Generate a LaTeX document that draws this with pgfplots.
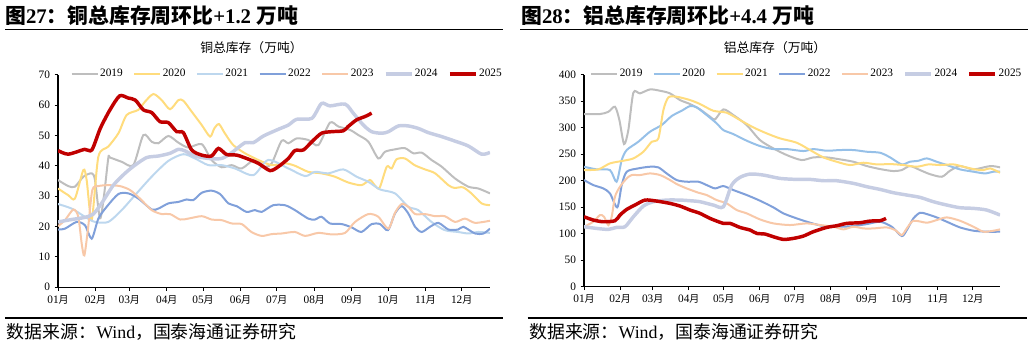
\documentclass[border=0pt]{standalone}
\usepackage{fontspec}
\setmainfont{Liberation Serif}
\newfontfamily\cjk{Noto Sans CJK SC}
\usepackage{pgfplots}
\pgfplotsset{compat=1.18}
\definecolor{cA}{RGB}{190,190,190}
\definecolor{cY}{RGB}{255,220,125}
\definecolor{cPB}{RGB}{189,215,238}
\definecolor{cLB}{RGB}{150,192,232}
\definecolor{cB}{RGB}{128,160,218}
\definecolor{cP}{RGB}{248,200,168}
\definecolor{cL}{RGB}{198,205,227}
\definecolor{cR}{RGB}{192,0,0}
\newcommand\yue{{\cjk\fontsize{7.5}{8}\selectfont 月}}
\pgfplotsset{
  inv/.style={
    scale only axis,
    anchor=south west,
    axis x line=bottom, axis y line=left,
    axis line style={black,line width=0.8pt,-},
    tick style={black,line width=0.7pt},
    tick align=outside, major tick length=2.5pt,
    xmin=0, xmax=357.4,
    xtick={0,31,59,90,120,151,181,212,243,273,304,334},
    xticklabels={01\yue,02\yue,03\yue,04\yue,05\yue,06\yue,07\yue,08\yue,09\yue,10\yue,11\yue,12\yue},
    ticklabel style={font=\fontsize{8.5}{9}\selectfont},
    /pgf/number format/assume math mode=true,
    legend columns=7,
    legend style={draw=none, fill=none, font=\fontsize{8.5}{9}\selectfont,
      anchor=center, nodes={inner sep=1.2pt},
      /tikz/every even column/.append style={column sep=6.6pt}},
    legend image code/.code={\draw[#1] (0pt,0pt) -- (19.5pt,0pt);},
    every axis plot/.append style={smooth, tension=0.45},
  },
  thin/.style={line width=1.5pt},
  thick2/.style={line width=2.6pt},
}
\begin{document}
\begin{tikzpicture}
\path[use as bounding box] (0,0) rectangle (774pt,258.75pt);
% titles
\node[anchor=west,inner sep=0pt] at (3.75pt,246.75pt) {\fontsize{15.6}{17}\selectfont\bfseries{\cjk 图}27{\cjk ：铜总库存周环比}+1.2 {\cjk 万吨}};
\node[anchor=west,inner sep=0pt] at (390.75pt,246.75pt) {\fontsize{15.6}{17}\selectfont\bfseries{\cjk 图}28{\cjk ：铝总库存周环比}+4.4 {\cjk 万吨}};
\draw[line width=0.8pt] (3.75pt,236.8pt) -- (377.25pt,236.8pt);
\draw[line width=0.8pt] (390pt,236.8pt) -- (771pt,236.8pt);
\node at (188.6pt,222.75pt) {\cjk\fontsize{9.6}{10}\selectfont 铜总库存（万吨）};
\node at (581.25pt,222.75pt) {\cjk\fontsize{9.6}{10}\selectfont 铝总库存（万吨）};
\draw[line width=0.8pt] (3.75pt,20.25pt) -- (377.25pt,20.25pt);
\draw[line width=0.8pt] (395.8pt,20.25pt) -- (770pt,20.25pt);
\node[anchor=west,inner sep=0pt] at (5pt,10pt) {\fontsize{13.4}{15}\selectfont{\cjk 数据来源：}Wind{\cjk ，国泰海通证券研究}};
\node[anchor=west,inner sep=0pt] at (396.75pt,10pt) {\fontsize{13.4}{15}\selectfont{\cjk 数据来源：}Wind{\cjk ，国泰海通证券研究}};

% copper
\begin{axis}[inv, at={(43.5pt,43.3pt)}, width=324pt, height=159.5pt,
  ymin=0, ymax=70, ytick={0,10,...,70},
  legend style={at={(0.53,1.003)}}]
\addplot[thin,cA] coordinates {(0,35.3)(8.5,33.3)(14,33.1)(21,36.4)(27.9,37.5)(30.6,35.3)(34.7,22.7)(38,30)(41.6,42.5)(43,42.7)(52.7,41.3)(62.3,40.2)(70.6,50.1)(77.5,47.9)(83,47.4)(91.3,49.8)(99.6,47.6)(107.8,46.0)(118.9,47.1)(127,41.9)(135.4,39.5)(143.7,40.2)(152,39.1)(163,42.1)(171,39.7)(176.8,40.8)(185,48.2)(190.6,47.4)(197.5,49.0)(207,48.5)(215.4,46.8)(225,54.2)(232,52.9)(241.6,51.8)(248.5,50.1)(256.8,47.9)(265,42.4)(270.5,44.6)(278.8,45.4)(287,45.8)(294,44.1)(301,44.3)(309,41.9)(317.4,39.7)(328.5,35.8)(339.5,33.1)(347.8,32.5)(357.4,30.9)};
\addlegendentry{2019}
\addplot[thin,cY] coordinates {(0,32.5)(8.5,30.3)(14,29.2)(21,38.6)(23.7,35.3)(27.9,22.2)(33.4,43.0)(41.6,46.3)(50,50.7)(56.8,56.7)(66.5,58.4)(72,61.1)(78.9,63.6)(85.8,61.6)(92.7,58.6)(99.6,61.6)(103.7,61.4)(110.6,57.8)(118.9,53.4)(125.8,49.6)(129.3,52.3)(133.2,53.7)(138,50.7)(145,46.8)(154.7,44.1)(165.7,41.9)(176.8,40.2)(187.8,40.8)(196,40)(207,38)(218,37.5)(229,36.4)(240,34.5)(251,33.6)(258,35.3)(262,33.6)(266,32.7)(272,39.7)(276,39.1)(280,42.1)(287,42.4)(295,40.2)(303.6,38.8)(312,37.5)(323,33.6)(328,32.7)(335,32.9)(342,30.9)(350.5,27.6)(357.4,27.0)};
\addlegendentry{2020}
\addplot[thin,cPB] coordinates {(0,27.4)(11.3,25.9)(22.3,23.2)(30.6,21.5)(41.6,21.5)(52.7,25.4)(63.7,30.3)(77.5,36.4)(91.3,41.6)(103.7,43.8)(113.3,42.4)(124.4,40.2)(135.4,40.2)(146.4,39.1)(161.6,36.9)(173.9,41.9)(190.6,39.1)(204.4,36.6)(212.6,38.0)(223.7,37.5)(236,38.8)(247,36.4)(256.8,34.7)(266.4,32.2)(278.8,30.9)(289.8,26.5)(298,25.4)(309,21.5)(320,18.8)(331,18.2)(339.5,17.7)(347.8,18.2)(357.4,17.9)};
\addlegendentry{2021}
\addplot[thin,cB] coordinates {(0,19.0)(5.8,19.3)(15.4,21.5)(22.3,20.4)(27.9,16.0)(33.4,22.6)(40.3,26.5)(50,30.7)(58.2,30.9)(66.5,29.2)(77.5,25.6)(83,25.9)(91.3,27.6)(99.6,28.1)(106.5,28.9)(112,28.7)(118.9,31.1)(127,31.8)(134,30.7)(141,27.6)(147.8,26.7)(156,24.8)(163,25.4)(168.5,24.8)(178,27.0)(187.8,27.0)(196,25.4)(207,22.6)(212.6,22.3)(218,23.2)(225,21.0)(234.7,20.8)(243,19.7)(251,18.2)(259.5,20.8)(266.4,20.8)(273,18.8)(278.8,24.3)(284.3,26.7)(289.8,24.3)(295.4,19.9)(300.9,18.2)(307.8,19.9)(314.7,21.2)(323,19.0)(331,19.0)(335.4,19.9)(345,17.7)(352,17.7)(357.4,19.3)};
\addlegendentry{2022}
\addplot[thin,cP] coordinates {(0,20.1)(5.8,22.1)(12.7,25.6)(16.8,23.2)(19.6,14.4)(21.8,10.5)(25,19.9)(28.4,32)(33.4,33.3)(41.6,33.6)(51.3,33.3)(59.6,32)(67.8,29.2)(77.5,25.4)(85.8,24.1)(92.7,24.1)(101,22.3)(107.8,22.6)(118.9,23.4)(127,22.3)(135.4,22.1)(143.7,21.0)(152,20.8)(160,18.2)(168.5,16.9)(176.8,17.5)(185,17.7)(196,18.2)(204.4,16.9)(215.4,17.9)(226.4,17.4)(237.5,17.9)(245.7,21.5)(256.8,24.1)(265,23.2)(273.3,19.3)(278.8,24.5)(284.3,27.4)(289.8,26.5)(295.4,24.1)(303.6,24.1)(312,23.4)(320,23.4)(328.5,21.5)(336.7,22.6)(345,21.2)(357.4,21.9)};
\addlegendentry{2023}
\addplot[thick2,cL] coordinates {(0,21.5)(11.3,22.3)(22.3,23.0)(29.2,24.1)(36,27.6)(45.8,33.6)(55.4,37.5)(63.7,40.2)(73.4,42.7)(83,43.2)(92.7,44.1)(99.6,45.4)(105,44.9)(113.3,43.2)(124.4,42.4)(135.4,42.4)(143.7,44.3)(154.7,47.6)(161.6,47.6)(170,49.8)(182.3,52.0)(190.6,53.4)(197.5,55.3)(210,55.6)(218,60.5)(225,59.7)(237.5,60.3)(244.3,57.3)(252.6,53.4)(259.5,51.2)(267.8,50.7)(273.3,51.2)(281.6,53.1)(289.8,53.1)(298,52.3)(306.4,50.9)(317.4,49.6)(328.5,48.1)(339.5,46.5)(350.5,43.8)(357.4,44.4)};
\addlegendentry{2024}
\addplot[thick2,cR] coordinates {(0,45.0)(8.5,43.8)(22,45.4)(28,45.2)(35,52.3)(43,58.4)(51,63.0)(58,62.3)(64,61.6)(70.6,58.4)(77.5,57.5)(84.4,54.5)(91.3,54.2)(98.2,51.2)(103.7,50.9)(110.6,45.2)(118.9,43.5)(127,43.2)(132.7,45.7)(139.5,43.7)(147.8,43.5)(156,42.4)(165.7,40.8)(175.4,38.4)(182.3,39.7)(190.6,42.4)(196,45.0)(203,45.2)(210,47.9)(218,50.7)(226,51.2)(236,51.5)(240,52.9)(247,55.1)(254,56.2)(259.5,57.3)};
\addlegendentry{2025}
\end{axis}

% aluminium
\begin{axis}[inv, at={(438pt,43.7pt)}, width=312pt, height=159pt,
  ymin=0, ymax=400, ytick={0,50,...,400},
  legend style={at={(0.535,1.003)}}]
\addplot[thin,cA] coordinates {(0,325.8)(13.7,325.8)(20.9,330)(26.6,339.6)(30.4,314.5)(34.4,269.2)(38.1,295.6)(42.4,366)(48.1,364.8)(56.7,372.3)(65.3,369.8)(73.9,364.8)(82.5,352.2)(91.1,344.7)(99.7,334.6)(108.3,320.8)(112.6,315.7)(119.7,334.6)(128.3,323.9)(139.8,305)(151.2,276.7)(162.7,261)(174.2,248.4)(187,239)(197,244)(208.5,244)(220,240.3)(231.5,235.8)(243,227.7)(254.4,222)(265.8,218.2)(273,220.1)(280,227.7)(288.7,220.1)(297,212.6)(307.4,207.5)(314.5,218.9)(323,227.7)(334.6,221.4)(349,227.7)(357.5,225.2)};
\addlegendentry{2019}
\addplot[thin,cLB] coordinates {(0,226.4)(10.9,221.4)(22.3,220.1)(28,198.1)(32.4,239)(36.7,257.9)(46.7,273.6)(56.7,292.5)(66.7,305)(75.3,322)(83.9,332)(91.1,340.9)(96.8,338.4)(105.4,323.9)(114,308.2)(119.7,295.6)(128.3,288)(139.8,275.5)(151.2,265.4)(162.7,259.7)(174.2,259.7)(188.5,256)(197,259.7)(208.5,256.6)(220,257.9)(231.5,257.9)(243,254.7)(254.4,252.8)(263,244)(273,230.8)(280,235.8)(287.3,237.7)(294.5,242.1)(303,235.8)(311.7,229.6)(323,221.4)(334.6,217)(344.6,213.8)(351.8,217)(357.5,217)};
\addlegendentry{2020}
\addplot[thin,cY] coordinates {(0,220.1)(12.3,221.4)(22.3,232.7)(33.8,237.7)(42.4,242.1)(51,254.7)(58.2,273.6)(63.9,279.9)(68.2,333.3)(72.5,357.2)(79.6,358.5)(91.1,352.2)(99.7,344.7)(111.1,332)(122.6,328.3)(134,314.5)(145.5,300.6)(157,289.3)(168.4,279.9)(182.8,271.7)(194.2,257.9)(205.7,244)(217.1,235.8)(228.6,229.6)(240,234)(251.5,230.8)(263,231.4)(274.4,229.6)(285.9,226.4)(295.9,230.8)(306,229.6)(317.4,230.8)(326,226.4)(336,221.4)(343.2,220.1)(349,223.3)(357.5,215.1)};
\addlegendentry{2021}
\addplot[thin,cB] coordinates {(0,201.3)(8,191.8)(16.6,185.5)(22.3,176.1)(28.6,149.7)(32.4,191.8)(36.7,217)(46.7,223.3)(56.7,226.4)(63.9,225.2)(71,213.8)(79.6,201.3)(88.2,198.1)(98.3,198.1)(105.4,191.8)(112.6,185.5)(119.7,189.9)(128.3,182.4)(139.8,173)(151.2,162.3)(162.7,149.7)(171.3,138.4)(182.8,128.9)(194.2,120.8)(205.7,114.5)(220,113.2)(231.5,114.5)(243,118.2)(254.4,122.6)(264.4,113.2)(273,95.6)(277.3,106.9)(283,128.9)(288.7,139.6)(294.5,137.1)(303,130.8)(311.7,122.6)(323,111.9)(334.6,105.7)(346,103.8)(357.5,103.8)};
\addlegendentry{2022}
\addplot[thin,cP] coordinates {(0,113.2)(8,122.6)(13.7,135.2)(17.2,132)(20.9,116.4)(23.8,132)(26.6,169.8)(30.9,188.7)(36.7,204.4)(41,210.7)(48.1,210.7)(56.7,213.8)(65.3,210.7)(73.9,201.3)(79.6,193.7)(88.2,185.5)(98.3,177.4)(105.4,173)(114,163.5)(122.6,157.2)(131.2,144.7)(139.8,138.4)(151.2,127)(162.7,119.5)(177,116.4)(191.3,119.5)(202.8,116.4)(214.3,113.2)(222.9,108.2)(231.5,113.2)(240,110)(248.6,110)(260,111.9)(267.3,106.9)(273,97.5)(277.3,110)(283,124.5)(294.5,120.8)(303,125.8)(311.7,130.8)(323,124.5)(334.6,113.2)(343.2,103.8)(351.8,105.7)(357.5,108.2)};
\addlegendentry{2023}
\addplot[thick2,cL] coordinates {(0,113.2)(10.9,110)(20.9,108.2)(28,111.9)(35.2,113.2)(42.4,132)(51,152.2)(59.6,160.4)(71,163.5)(82.5,163.5)(91.1,162.3)(99.7,160.4)(111.1,154.1)(119.7,150.9)(126.9,191.8)(134,206.3)(142.7,212.6)(154.1,210.7)(168.4,204.4)(182.8,202.5)(194.2,202.5)(205.7,200)(217.1,200)(231.5,195)(243,188.7)(254.4,183.6)(265.8,177.4)(277.3,173)(288.7,168.6)(300.2,160.4)(311.7,154.1)(323,149.1)(334.6,147.8)(346,144.7)(357.5,135.2)};
\addlegendentry{2024}
\addplot[thick2,cR] coordinates {(0,132)(8,125.8)(16.6,122.6)(26.6,124.5)(30.9,135.2)(36.7,145.9)(43.8,154.1)(52.4,163.5)(62.4,161.6)(73.9,157.2)(82.5,152.2)(91.1,144.7)(99.7,138.4)(108.3,128.9)(119.7,119.5)(125.5,119.5)(134,111.9)(142.7,106.9)(148.4,100.6)(155.5,99.4)(162.7,94.3)(171.3,89.3)(179.9,91.2)(188.5,95.6)(197,103.8)(208.5,111.9)(217.1,115.1)(225.7,119.5)(237.2,120.8)(245.8,123.9)(254.4,124.5)(259.5,128.9)};
\addlegendentry{2025}
\end{axis}
\end{tikzpicture}
\end{document}
